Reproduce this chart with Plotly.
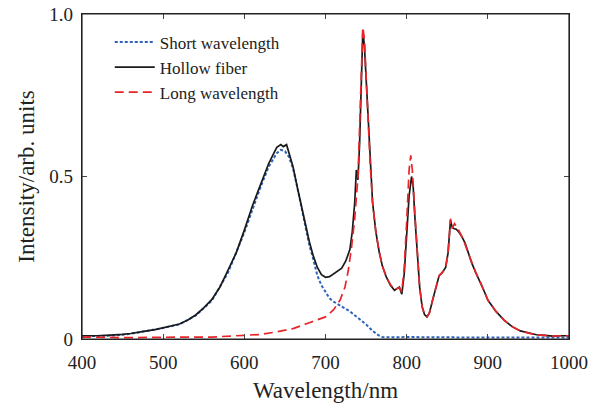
import plotly.graph_objects as go

# Hollow fiber (measured)
hollow_x = [400,410,420,430,440,450,460,470,480,490,500,510,520,530,540,550,560,570,580,590,600,610,620,630,635,640,645,648,652,656,660,665,670,675,680,685,690,695,700,705,710,715,720,725,730,733,736,738,740,742,744,746,748,750,752,755,758,762,766,770,775,780,785,788,791,794,797,800,803,806,808,810,813,816,819,822,825,828,832,836,840,844,848,851,854,856,858,861,864,868,872,876,880,885,890,895,900,910,920,930,940,950,960,970,980,990,1000]
hollow_y = [0.010,0.009,0.010,0.011,0.012,0.014,0.017,0.020,0.025,0.029,0.035,0.040,0.046,0.058,0.074,0.096,0.122,0.160,0.210,0.265,0.335,0.410,0.475,0.540,0.565,0.590,0.598,0.592,0.598,0.560,0.530,0.470,0.410,0.355,0.300,0.255,0.220,0.198,0.190,0.192,0.200,0.210,0.218,0.240,0.275,0.330,0.420,0.520,0.490,0.600,0.820,0.950,0.900,0.800,0.690,0.540,0.420,0.330,0.270,0.225,0.190,0.165,0.150,0.155,0.160,0.138,0.200,0.320,0.440,0.500,0.470,0.380,0.260,0.160,0.100,0.075,0.068,0.080,0.120,0.160,0.195,0.205,0.220,0.265,0.365,0.345,0.340,0.338,0.330,0.315,0.295,0.265,0.235,0.205,0.180,0.150,0.120,0.085,0.058,0.038,0.025,0.018,0.013,0.011,0.009,0.010,0.010]

# Short wavelength component
short_x = [400,420,440,460,480,500,520,540,560,580,600,620,630,635,640,645,650,655,660,665,670,675,680,685,690,695,700,705,710,720,730,740,750,758,765,770,780,800,820,840,860,880,900,920,940,960,980,1000]
short_y = [0.008,0.009,0.011,0.016,0.024,0.034,0.045,0.072,0.118,0.205,0.328,0.468,0.530,0.552,0.572,0.582,0.578,0.560,0.525,0.470,0.410,0.350,0.290,0.245,0.195,0.165,0.145,0.125,0.115,0.100,0.085,0.065,0.045,0.025,0.012,0.006,0.005,0.006,0.005,0.006,0.005,0.005,0.006,0.005,0.005,0.006,0.005,0.005]

# Long wavelength component
long_x = [400,420,440,460,480,500,520,540,560,580,600,620,640,660,680,690,700,710,718,724,728,732,736,740,743,746,748,750,752,755,758,762,766,770,775,780,785,788,791,794,797,800,803,805,807,810,813,816,819,822,825,828,832,836,840,844,848,851,854,856,859,862,866,870,875,880,885,890,895,900,910,920,930,940,950,960,970,980,990,1000]
long_y = [0.006,0.005,0.006,0.004,0.005,0.006,0.005,0.006,0.006,0.008,0.010,0.014,0.022,0.032,0.050,0.058,0.068,0.090,0.120,0.160,0.210,0.280,0.370,0.500,0.700,0.960,0.920,0.810,0.690,0.540,0.420,0.330,0.270,0.225,0.190,0.168,0.152,0.155,0.158,0.145,0.220,0.360,0.520,0.565,0.520,0.390,0.260,0.160,0.100,0.075,0.068,0.080,0.120,0.160,0.195,0.205,0.220,0.265,0.370,0.340,0.355,0.345,0.325,0.305,0.270,0.235,0.205,0.180,0.150,0.120,0.085,0.058,0.038,0.025,0.018,0.013,0.011,0.009,0.010,0.010]

x_ticks = [400, 500, 600, 700, 800, 900, 1000]
y_ticks = [0, 0.5, 1.0]
y_tick_text = ["0", "0.5", "1.0"]

font_family = "Liberation Serif"
fs = 19

fig = go.Figure()
fig.add_trace(go.Scatter(x=short_x, y=short_y, mode="lines", name="Short wavelength",
                         line=dict(color="#2f62b8", width=2, dash="3px,2px")))
fig.add_trace(go.Scatter(x=hollow_x, y=hollow_y, mode="lines", name="Hollow fiber",
                         line=dict(color="#1a1a1a", width=1.7)))
fig.add_trace(go.Scatter(x=long_x, y=long_y, mode="lines", name="Long wavelength",
                         line=dict(color="#e8262a", width=1.7, dash="9px,5px")))

fig.update_layout(
    width=608, height=403,
    margin=dict(l=82, r=39, t=14, b=64),
    paper_bgcolor="white", plot_bgcolor="white",
    font=dict(family=font_family, size=fs, color="#222"),
    showlegend=True,
    legend=dict(x=0.057, y=0.968, xanchor="left", yanchor="top",
                bgcolor="rgba(0,0,0,0)", font=dict(size=17, family=font_family),
                itemwidth=40, tracegroupgap=0),
    xaxis=dict(range=[400, 1000], tickvals=x_ticks, ticks="inside", ticklen=5,
               showline=True, linecolor="#222", linewidth=1.2, mirror="ticks",
               showgrid=False, zeroline=False, automargin=False,
               ticklabelstandoff=6, ticklabeloverflow="allow",
               title=dict(text="Wavelength/nm", standoff=12),
               tickfont=dict(size=fs)),
    yaxis=dict(range=[0, 1.0], tickvals=y_ticks, ticktext=y_tick_text, ticks="inside", ticklen=5,
               showline=True, linecolor="#222", linewidth=1.2, mirror="ticks",
               showgrid=False, zeroline=False, automargin=False,
               ticklabelstandoff=4, ticklabeloverflow="allow",
               title=dict(text="Intensity/arb. units", standoff=8),
               tickfont=dict(size=fs)),
    shapes=[dict(type="rect", xref="paper", yref="paper", x0=0, x1=1, y0=0, y1=1,
                 line=dict(color="#222", width=1.2), fillcolor="rgba(0,0,0,0)", layer="above")],
)

# remove the browser's default 8px body margin so the figure fills the window
fig.write_html("out.html", config={"displayModeBar": False},
               post_script="document.body.style.margin='0';")
